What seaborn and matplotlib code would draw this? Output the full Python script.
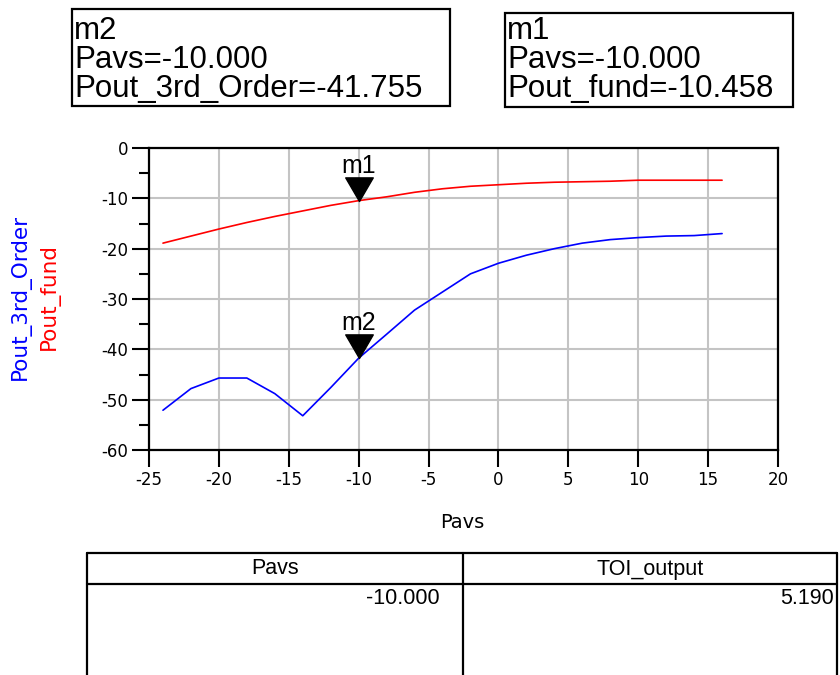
import numpy as np
import pandas as pd
import matplotlib
matplotlib.use("Agg")
import matplotlib.pyplot as plt
from matplotlib.patches import Rectangle
from matplotlib.lines import Line2D
from matplotlib.path import Path
from matplotlib.ticker import MultipleLocator
import seaborn as sns

# Swept available source power (dBm)
pavs = [-24, -22, -20, -18, -16, -14, -12, -10, -8, -6, -4,
        -2, 0, 2, 4, 6, 8, 10, 12, 14, 16]
# Fundamental output power (dBm)
pout_fund = [-18.9, -17.5, -16.1, -14.8, -13.6, -12.5, -11.4, -10.458, -9.7, -8.8, -8.1,
             -7.6, -7.3, -7.0, -6.8, -6.7, -6.6, -6.4, -6.4, -6.4, -6.4]
# Third-order intermod output power (dBm)
pout_3rd = [-52.1, -47.8, -45.7, -45.7, -48.8, -53.2, -47.6, -41.755, -37.0, -32.2, -28.6,
            -25.0, -22.9, -21.3, -20.0, -18.9, -18.2, -17.8, -17.5, -17.4, -17.0]

# Marker readouts
m1_label, m1_pavs, m1_val = "m1", -10.0, -10.458
m2_label, m2_pavs, m2_val = "m2", -10.0, -41.755
toi_pavs = -10.0
toi_output = 5.190

x_ticks = [-25, -20, -15, -10, -5, 0, 5, 10, 15, 20]
y_ticks = [0, -10, -20, -30, -40, -50, -60]

df = pd.DataFrame({"Pavs": pavs, "Pout_fund": pout_fund, "Pout_3rd_Order": pout_3rd})

sns.set_style("white")
plt.rcParams["font.family"] = ["DejaVu Sans"]
plt.rcParams["text.color"] = "black"
plt.rcParams["xtick.labelcolor"] = "black"
plt.rcParams["ytick.labelcolor"] = "black"

W, H = 840, 675
fig = plt.figure(figsize=(W / 100, H / 100), dpi=100)


def fx(px):
    return px / W


def fy(py):
    return 1 - py / H


ax = fig.add_axes([fx(149), fy(450), fx(778) - fx(149), fy(148) - fy(450)])

sns.lineplot(data=df, x="Pavs", y="Pout_fund", ax=ax, color="#ff0000", lw=1.2)
sns.lineplot(data=df, x="Pavs", y="Pout_3rd_Order", ax=ax, color="#0000ff", lw=1.2)

ax.set_xlim(x_ticks[0], x_ticks[-1])
ax.set_ylim(y_ticks[-1], y_ticks[0])
ax.set_xticks(x_ticks)
ax.set_yticks(y_ticks)
ax.yaxis.set_minor_locator(MultipleLocator(5))
ax.set_xticklabels([str(v) for v in x_ticks])
ax.set_yticklabels([str(v) for v in y_ticks])
ax.tick_params(axis="both", which="major", direction="out", length=12, width=1.5,
               color="black", labelcolor="black", labelsize=12, pad=3,
               bottom=True, left=True)
ax.tick_params(axis="y", which="minor", direction="out", length=7, width=1.5,
               color="black", left=True)
ax.grid(True, which="major", color="#c4c4c4", lw=1.5)
ax.set_axisbelow(True)
for s in ax.spines.values():
    s.set_visible(True)
    s.set_color("black")
    s.set_linewidth(1.6)
ax.set_xlabel("")
ax.set_ylabel("")

box_font = ["Liberation Sans", "DejaVu Sans"]

# Marker triangles, tip on the data point
tri = Path([(-14, 24), (14, 24), (0, 0), (-14, 24)],
           [Path.MOVETO, Path.LINETO, Path.LINETO, Path.CLOSEPOLY])
for lab, mx, my in [(m1_label, m1_pavs, m1_val), (m2_label, m2_pavs, m2_val)]:
    ax.plot([mx], [my], marker=tri, markersize=34, color="black", ls="none", zorder=5)
    ax.annotate(lab, xy=(mx, my), xytext=(0, 20), textcoords="offset points",
                ha="center", va="baseline", fontsize=18, family=box_font,
                color="black", zorder=6)

# Axis titles
fig.text(fx(462), fy(523), "Pavs", ha="center", va="center", fontsize=14, color="black")
fig.text(fx(20), fy(297), "Pout_3rd_Order", rotation=90, ha="center", va="center",
         fontsize=15.5, color="#0000ff")
fig.text(fx(49), fy(297), "Pout_fund", rotation=90, ha="center", va="center",
         fontsize=15.5, color="#ff0000")


# Marker readout boxes
def readout(x0, y0, x1, y1, lines):
    fig.patches.append(Rectangle((fx(x0), fy(y1)), fx(x1) - fx(x0), fy(y0) - fy(y1),
                                 transform=fig.transFigure, fill=False,
                                 edgecolor="black", lw=1.6))
    for base, txt in zip([39, 68, 97], lines):
        fig.text(fx(x0 + 2), fy(base), txt, ha="left", va="baseline",
                 fontsize=22.5, family=box_font, color="black")


readout(72, 9, 450, 106, [m2_label, f"Pavs={m2_pavs:.3f}", f"Pout_3rd_Order={m2_val:.3f}"])
readout(505, 13, 793, 107, [m1_label, f"Pavs={m1_pavs:.3f}", f"Pout_fund={m1_val:.3f}"])

# Result table
tab_font = ["Liberation Sans Narrow", "Liberation Sans", "DejaVu Sans"]
lk = dict(transform=fig.transFigure, color="black", lw=1.6)
tl, tm, tr, tt, th = 87, 463, 837, 553, 584
fig.add_artist(Line2D([fx(tl), fx(tr)], [fy(tt), fy(tt)], **lk))
fig.add_artist(Line2D([fx(tl), fx(tr)], [fy(th), fy(th)], **lk))
for xv in (tl, tm, tr):
    fig.add_artist(Line2D([fx(xv), fx(xv)], [fy(tt), fy(H + 5)], **lk))
fig.text(fx((tl + tm) / 2), fy(569), "Pavs", ha="center", va="center",
         fontsize=15.5, family=tab_font, color="black")
fig.text(fx((tm + tr) / 2), fy(569), "TOI_output", ha="center", va="center",
         fontsize=15.5, family=tab_font, color="black")
fig.text(fx(tm - 23), fy(598), f"{toi_pavs:.3f}", ha="right", va="center",
         fontsize=15.5, family=tab_font, color="black")
fig.text(fx(tr - 3), fy(598), f"{toi_output:.3f}", ha="right", va="center",
         fontsize=15.5, family=tab_font, color="black")

fig.savefig("out.png", dpi=100, facecolor="white")
